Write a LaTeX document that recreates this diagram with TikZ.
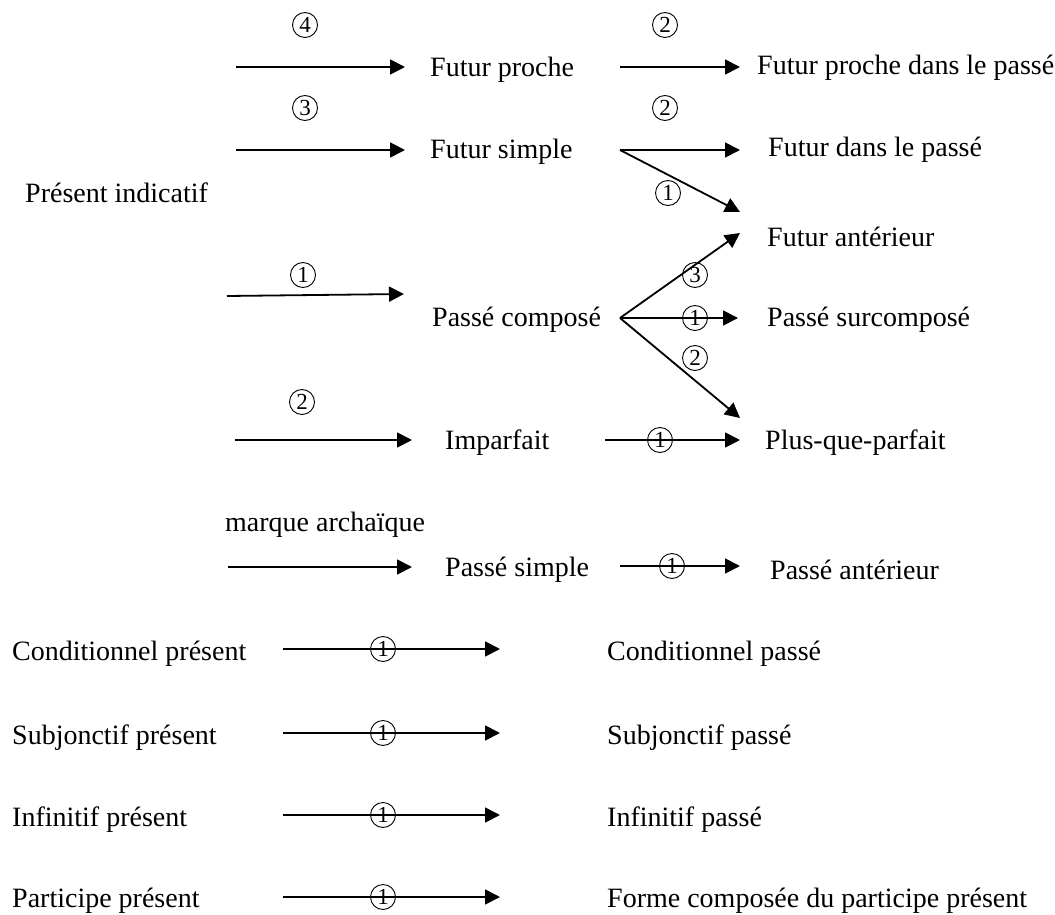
\documentclass[tikz,border=0pt]{standalone}
\usepackage{fontspec}
\setmainfont{Liberation Serif}
\usetikzlibrary{arrows.meta}
\tikzset{
  lbl/.style={anchor=west,inner sep=0pt,font=\fontsize{28}{32}\selectfont},
  num/.style={circle,draw,line width=0.9pt,inner sep=0pt,minimum size=25pt,font=\fontsize{23}{23}\selectfont},
  arr/.style={line width=1.8pt,-{Triangle[length=15pt,width=15pt]}}
}
\newcommand{\cnum}[3]{\node[num] (#1) at (#2) {#3};}
\begin{document}
\begin{tikzpicture}[x=1pt,y=-1pt]
\useasboundingbox (0,0) rectangle (1055,915);
% texts
\node[lbl] (pi) at (25,193) {Présent indicatif};
\node[lbl] (fp) at (430,70) {Futur proche};
\node[lbl] (fpp) at (757,68) {Futur proche dans le passé};
\node[lbl] (fs) at (430,152) {Futur simple};
\node[lbl] (fdp) at (768,150) {Futur dans le passé};
\node[lbl] (fa) at (767,237) {Futur antérieur};
\node[lbl] (pc) at (432,320) {Passé composé};
\node[lbl] (psc) at (767,320) {Passé surcomposé};
\node[lbl] (imp) at (445,443) {Imparfait};
\node[lbl] (pqp) at (765,443) {Plus-que-parfait};
\node[lbl] (ma) at (225,525) {marque archaïque};
\node[lbl] (ps) at (445,570) {Passé simple};
\node[lbl] (pa) at (770,570) {Passé antérieur};
\node[lbl] (cpr) at (12,654) {Conditionnel présent};
\node[lbl] (cpa) at (607,654) {Conditionnel passé};
\node[lbl] (spr) at (12,738) {Subjonctif présent};
\node[lbl] (spa) at (607,738) {Subjonctif passé};
\node[lbl] (ipr) at (12,820) {Infinitif présent};
\node[lbl] (ipa) at (607,820) {Infinitif passé};
\node[lbl] (ppr) at (12,901) {Participe présent};
\node[lbl] (ppa) at (607,901) {Forme composée du participe présent};
% connector end points
\coordinate (a1s) at (236,67);  \coordinate (a1e) at (405,67);
\coordinate (b1s) at (620,67);  \coordinate (b1e) at (740,67);
\coordinate (a2s) at (236,150); \coordinate (a2e) at (405,150);
\coordinate (b2s) at (620,150); \coordinate (b2e) at (740,150);
\coordinate (c2e) at (740,212);
\coordinate (a3s) at (227,296); \coordinate (a3e) at (404,294);
\coordinate (b3s) at (620,318); \coordinate (b3u) at (740,233);
\coordinate (b3e) at (738,318); \coordinate (b3d) at (740,418);
\coordinate (a4s) at (235,440); \coordinate (a4e) at (412,440);
\coordinate (b4s) at (605,440); \coordinate (b4e) at (740,440);
\coordinate (a5s) at (228,567); \coordinate (a5e) at (412,567);
\coordinate (b5s) at (620,566); \coordinate (b5e) at (740,566);
\coordinate (c6s) at (283,649); \coordinate (c6e) at (500,649);
\coordinate (c7s) at (283,733); \coordinate (c7e) at (500,733);
\coordinate (c8s) at (283,815); \coordinate (c8e) at (500,815);
\coordinate (c9s) at (283,897); \coordinate (c9e) at (500,897);
% arrows
\draw[arr] (a1s) -- (a1e);
\draw[arr] (b1s) -- (b1e);
\draw[arr] (a2s) -- (a2e);
\draw[arr] (b2s) -- (b2e);
\draw[arr] (b2s) -- (c2e);
\draw[arr] (a3s) -- (a3e);
\draw[arr] (b3s) -- (b3u);
\draw[arr] (b3s) -- (b3e);
\draw[arr] (b3s) -- (b3d);
\draw[arr] (a4s) -- (a4e);
\draw[arr] (b4s) -- (b4e);
\draw[arr] (a5s) -- (a5e);
\draw[arr] (b5s) -- (b5e);
\draw[arr] (c6s) -- (c6e);
\draw[arr] (c7s) -- (c7e);
\draw[arr] (c8s) -- (c8e);
\draw[arr] (c9s) -- (c9e);
% circled numbers
\cnum{n1}{305,25}{4}
\cnum{n2}{665,25}{2}
\cnum{n3}{305,108}{3}
\cnum{n4}{665,108}{2}
\cnum{n5}{668,193}{1}
\cnum{n6}{303,275}{1}
\cnum{n7}{695,275}{3}
\cnum{n8}{695,318}{1}
\cnum{n9}{695,358}{2}
\cnum{n10}{302,402}{2}
\cnum{n11}{660,440}{1}
\cnum{n12}{672,566}{1}
\cnum{n13}{383,649}{1}
\cnum{n14}{383,733}{1}
\cnum{n15}{383,815}{1}
\cnum{n16}{383,897}{1}
\end{tikzpicture}
\end{document}
